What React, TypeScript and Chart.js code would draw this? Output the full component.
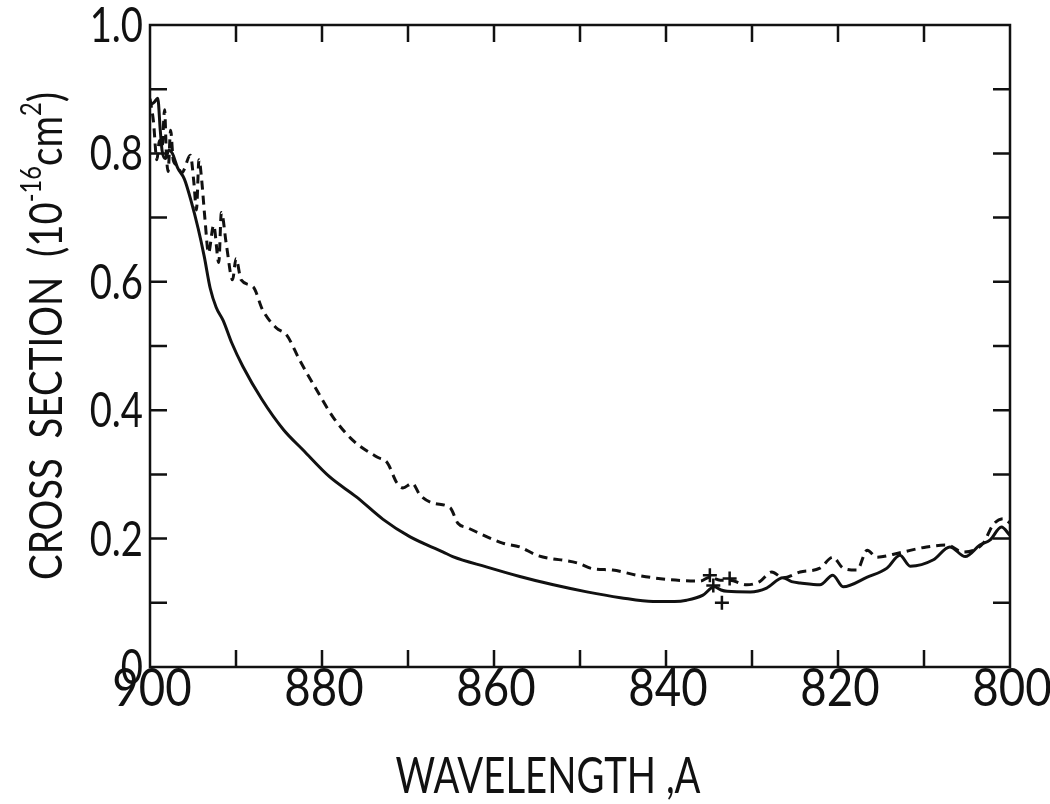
import React, { useEffect, useRef } from 'react';
import { Chart, registerables } from 'chart.js';

Chart.register(...registerables);

// Wavelength (Å) and cross section (10^-16 cm^2)
const solidWavelength = [
  900.0, 899.5, 899.1, 898.8, 898.6, 898.2, 897.8, 897.4, 896.8, 896.0,
  895.2, 894.4, 893.7, 893.0, 892.3, 891.5, 890.5, 889.2, 887.0, 884.5,
  882.2, 879.1, 876.0, 872.9, 869.8, 865.9, 864.8, 860.9, 857.0, 853.1,
  849.2, 845.3, 841.5, 839.0, 837.6, 835.7, 834.4, 833.6, 832.9, 830.2,
  828.3, 826.4, 825.4, 824.4, 822.1, 820.6, 819.4, 816.6, 814.3, 812.8,
  811.6, 808.9, 807.0, 805.2, 803.5, 802.3, 801.0, 800.0,
];
const solidCrossSection = [
  0.875, 0.880, 0.886, 0.835, 0.805, 0.792, 0.805, 0.800, 0.778, 0.760,
  0.725, 0.683, 0.640, 0.590, 0.560, 0.540, 0.505, 0.468, 0.417, 0.370,
  0.338, 0.296, 0.265, 0.230, 0.203, 0.179, 0.172, 0.156, 0.141, 0.128,
  0.117, 0.108, 0.102, 0.102, 0.104, 0.112, 0.125, 0.120, 0.118, 0.117,
  0.123, 0.139, 0.133, 0.131, 0.128, 0.143, 0.125, 0.140, 0.154, 0.174,
  0.157, 0.167, 0.187, 0.172, 0.190, 0.198, 0.218, 0.205,
];

const dashedWavelength = [
  900.0, 899.6, 899.2, 898.9, 898.6, 898.3, 898.1, 897.9, 897.6, 897.3,
  896.9, 896.3, 895.3, 894.9, 894.6, 894.3, 894.0, 893.6, 893.2, 892.6,
  892.0, 891.7, 891.1, 890.4, 890.0, 889.4, 888.0, 886.9, 885.3, 884.1,
  882.6, 880.6, 878.7, 876.4, 873.6, 872.4, 871.3, 870.6, 869.5, 868.6,
  867.0, 865.1, 864.2, 863.1, 859.0, 857.0, 855.0, 850.3, 848.5, 846.2,
  843.4, 839.5, 836.0, 834.9, 833.7, 832.6, 830.6, 829.1, 827.7, 826.4,
  824.4, 822.1, 820.6, 819.4, 817.8, 816.6, 815.5, 812.8, 809.7, 807.3,
  805.5, 803.1, 802.0, 800.8, 800.0,
];
const dashedCrossSection = [
  0.885, 0.850, 0.790, 0.820, 0.810, 0.868, 0.800, 0.772, 0.836, 0.790,
  0.782, 0.770, 0.797, 0.755, 0.712, 0.790, 0.760, 0.696, 0.645, 0.688,
  0.630, 0.708, 0.656, 0.603, 0.636, 0.603, 0.592, 0.556, 0.528, 0.517,
  0.478, 0.431, 0.389, 0.353, 0.327, 0.318, 0.287, 0.279, 0.286, 0.268,
  0.255, 0.248, 0.224, 0.217, 0.193, 0.187, 0.174, 0.162, 0.153, 0.151,
  0.143, 0.136, 0.134, 0.140, 0.135, 0.135, 0.128, 0.133, 0.148, 0.139,
  0.148, 0.154, 0.171, 0.154, 0.151, 0.182, 0.171, 0.178, 0.187, 0.190,
  0.179, 0.193, 0.221, 0.231, 0.224,
];

const markerWavelength = [834.9, 832.6, 834.5, 833.5];
const markerCrossSection = [0.143, 0.138, 0.127, 0.100];

const xTickValues = [900, 880, 860, 840, 820, 800];
const xTickLabels = ['900', '880', '860', '840', '820', '800'];
const yTickValues = [0, 0.2, 0.4, 0.6, 0.8, 1.0];
const yTickLabels = ['0', '0.2', '0.4', '0.6', '0.8', '1.0'];

const FONT = "Lato, 'DejaVu Sans', sans-serif";
const INK = '#111111';

const toPoints = (xs: number[], ys: number[]) => xs.map((x, i) => ({ x, y: ys[i] }));

// draw text squeezed horizontally to a condensed look
function drawSqueezed(ctx: CanvasRenderingContext2D, text: string, x: number, y: number, sx: number, align: 'left' | 'center' | 'right') {
  const w = ctx.measureText(text).width * sx;
  let x0 = x;
  if (align === 'center') x0 = x - w / 2;
  else if (align === 'right') x0 = x - w;
  ctx.save();
  ctx.translate(x0, y);
  ctx.scale(sx, 1);
  ctx.textAlign = 'left';
  ctx.fillText(text, 0, 0);
  ctx.restore();
}

const framePlugin = {
  id: 'frameAndTicks',
  beforeDraw(chart: any) {
    const { ctx, width, height } = chart;
    ctx.save();
    ctx.fillStyle = '#ffffff';
    ctx.fillRect(0, 0, width, height);
    ctx.restore();
  },
  afterDraw(chart: any) {
    const { ctx, chartArea, scales } = chart;
    const { left, right, top, bottom } = chartArea;
    const len = 17;
    ctx.save();
    ctx.strokeStyle = INK;
    ctx.lineWidth = 2.5;
    ctx.strokeRect(left, top, right - left, bottom - top);
    ctx.beginPath();
    for (const t of scales.x.ticks) {
      const px = scales.x.getPixelForValue(t.value);
      if (px <= left + 1 || px >= right - 1) continue;
      ctx.moveTo(px, bottom);
      ctx.lineTo(px, bottom - len);
      ctx.moveTo(px, top);
      ctx.lineTo(px, top + len);
    }
    for (const t of scales.y.ticks) {
      const py = scales.y.getPixelForValue(t.value);
      if (py <= top + 1 || py >= bottom - 1) continue;
      ctx.moveTo(left, py);
      ctx.lineTo(left + len, py);
      ctx.moveTo(right, py);
      ctx.lineTo(right - len, py);
    }
    ctx.stroke();

    ctx.fillStyle = INK;
    ctx.textBaseline = 'alphabetic';

    // tick labels, positioned by the chart's scales
    ctx.font = `400 53px ${FONT}`;
    xTickValues.forEach((v, i) => {
      const px = scales.x.getPixelForValue(v);
      drawSqueezed(ctx, xTickLabels[i], px + 2, bottom + 39, 0.86, 'center');
    });
    ctx.font = `400 49px ${FONT}`;
    yTickValues.forEach((v, i) => {
      const py = scales.y.getPixelForValue(v);
      drawSqueezed(ctx, yTickLabels[i], left - 7, py + 17, 0.78, 'right');
    });

    // X title
    ctx.font = `400 50px ${FONT}`;
    {
      const text = 'WAVELENGTH ,A';
      const w = ctx.measureText(text).width;
      drawSqueezed(ctx, text, 548, 793, 305 / w, 'center');
    }

    // Y title (rotated, with superscripts)
    const main = 47;
    const sup = 29;
    const parts: { t: string; s: boolean }[] = [
      { t: 'CROSS  SECTION  (10', s: false },
      { t: '-16', s: true },
      { t: 'cm', s: false },
      { t: '2', s: true },
      { t: ')', s: false },
    ];
    let total = 0;
    const widths: number[] = [];
    for (const p of parts) {
      ctx.font = `400 ${p.s ? sup : main}px ${FONT}`;
      const w = ctx.measureText(p.t).width;
      widths.push(w);
      total += w;
    }
    const target = 488;
    const sx = target / total;
    ctx.save();
    ctx.translate(62, 336);
    ctx.rotate(-Math.PI / 2);
    ctx.scale(sx, 1);
    ctx.textAlign = 'left';
    let cx = -total / 2;
    parts.forEach((p, i) => {
      ctx.font = `400 ${p.s ? sup : main}px ${FONT}`;
      ctx.fillText(p.t, cx, p.s ? -main * 0.45 : 0);
      cx += widths[i];
    });
    ctx.restore();
    ctx.restore();
  },
};

export default function App() {
  const canvasRef = useRef<HTMLCanvasElement | null>(null);

  useEffect(() => {
    if (!canvasRef.current) return;
    const chart = new Chart(canvasRef.current, {
      type: 'line',
      data: {
        datasets: [
          {
            label: 'solid',
            data: toPoints(solidWavelength, solidCrossSection),
            borderColor: INK,
            borderWidth: 3,
            pointRadius: 0,
            cubicInterpolationMode: 'monotone',
            fill: false,
          },
          {
            label: 'dashed',
            data: toPoints(dashedWavelength, dashedCrossSection),
            borderColor: INK,
            borderWidth: 3,
            borderDash: [9, 6],
            pointRadius: 0,
            cubicInterpolationMode: 'monotone',
            fill: false,
          },
          {
            label: 'markers',
            data: toPoints(markerWavelength, markerCrossSection),
            borderColor: INK,
            backgroundColor: INK,
            showLine: false,
            pointStyle: 'cross',
            pointRadius: 7,
            pointBorderWidth: 2.5,
          },
        ],
      },
      options: {
        responsive: false,
        animation: false,
        devicePixelRatio: 1,
        layout: { padding: { top: 25, right: 40, left: 0, bottom: 0 } },
        plugins: { legend: { display: false }, tooltip: { enabled: false }, title: { display: false } },
        scales: {
          x: {
            type: 'linear',
            min: 800,
            max: 900,
            reverse: true,
            grid: { display: false, drawTicks: false },
            border: { display: false },
            afterFit: (scale: any) => {
              scale.height = 137;
            },
            ticks: { display: false, stepSize: 10, autoSkip: false },
          },
          y: {
            type: 'linear',
            min: 0,
            max: 1,
            grid: { display: false, drawTicks: false },
            border: { display: false },
            afterFit: (scale: any) => {
              scale.width = 150;
            },
            ticks: { display: false, stepSize: 0.1, autoSkip: false },
          },
        },
      },
      plugins: [framePlugin],
    } as any);
    return () => chart.destroy();
  }, []);

  return (
    <div style={{ position: 'fixed', left: 0, top: 0, width: 1050, height: 804, background: '#fff' }}>
      <canvas ref={canvasRef} width={1050} height={804} style={{ display: 'block' }} />
    </div>
  );
}
